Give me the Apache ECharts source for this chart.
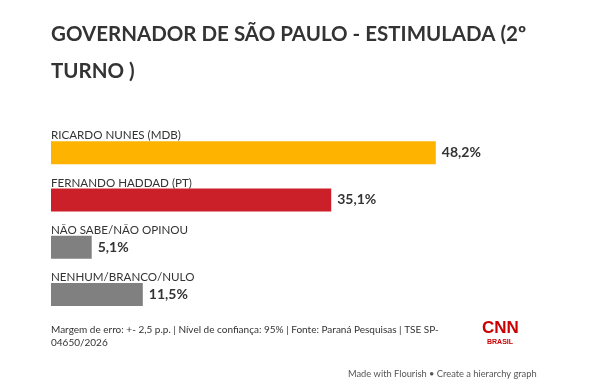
<!DOCTYPE html>
<html>
<head>
<meta charset="utf-8">
<script src="https://cdn.jsdelivr.net/npm/echarts@6/dist/echarts.min.js"></script>
<style>
html,body{margin:0;padding:0;background:#fff;}
#c{width:615px;height:384px;}
</style>
</head>
<body>
<div id="c"></div>
<script>
const categories = ["RICARDO NUNES (MDB)", "FERNANDO HADDAD (PT)", "NÃO SABE/NÃO OPINOU", "NENHUM/BRANCO/NULO"];
const values = [48.2, 35.1, 5.1, 11.5];
const barColors = ["#fdb300", "#cb2029", "#808080", "#808080"];
const titleText = "GOVERNADOR DE SÃO PAULO - ESTIMULADA (2º\nTURNO )";
const footnote = "Margem de erro: +- 2,5 p.p. | Nível de confiança: 95% | Fonte: Paraná Pesquisas | TSE SP-\n04650/2026";
const credit = "Made with Flourish • Create a hierarchy graph";

const chart = echarts.init(document.getElementById('c'), null, {renderer: 'canvas'});
const fontFam = 'Lato, "Noto Sans", sans-serif';
chart.setOption({
  backgroundColor: '#ffffff',
  animation: false,
  title: {
    text: titleText,
    left: 51, top: 16, padding: 0,
    textStyle: {fontFamily: fontFam, fontWeight: 'bold', fontSize: 20.5, color: '#333333', lineHeight: 37}
  },
  grid: {left: 51, top: 129, width: 479, height: 189, containLabel: false},
  xAxis: {type: 'value', min: 0, max: 60, show: false},
  yAxis: {
    type: 'category', data: categories, inverse: true,
    axisLine: {show: false}, axisTick: {show: false}, splitLine: {show: false},
    axisLabel: {
      inside: true, margin: 0, align: 'left', verticalAlign: 'bottom',
      padding: [0, 0, 11, 0],
      fontFamily: fontFam, fontSize: 11.6, color: '#333333'
    },
    z: 10
  },
  series: [{
    type: 'bar',
    barWidth: 23,
    data: values.map((v, i) => ({value: v, itemStyle: {color: barColors[i]}})),
    label: {
      show: true, position: 'right', distance: 6,
      formatter: p => String(p.value).replace('.', ',') + '%',
      fontFamily: fontFam, fontWeight: 'bold', fontSize: 14, color: '#333333'
    }
  }],
  graphic: [
    {type: 'text', left: 51, top: 323, style: {text: footnote, fontFamily: fontFam, fontSize: 10, lineHeight: 13, fill: '#333333'}},
    {type: 'text', left: 482, top: 320, style: {text: 'CNN', fontFamily: '"Liberation Sans", Arial, sans-serif', fontWeight: 'bold', fontSize: 17, fill: '#cc0000'}},
    {type: 'text', left: 487, top: 339, style: {text: 'BRASIL', fontFamily: '"Liberation Sans", Arial, sans-serif', fontWeight: 'bold', fontSize: 7, fill: '#cc0000'}},
    {type: 'text', left: 348, top: 369, style: {text: credit, fontFamily: fontFam, fontSize: 9.3, fill: '#555555'}}
  ]
});
</script>
</body>
</html>
